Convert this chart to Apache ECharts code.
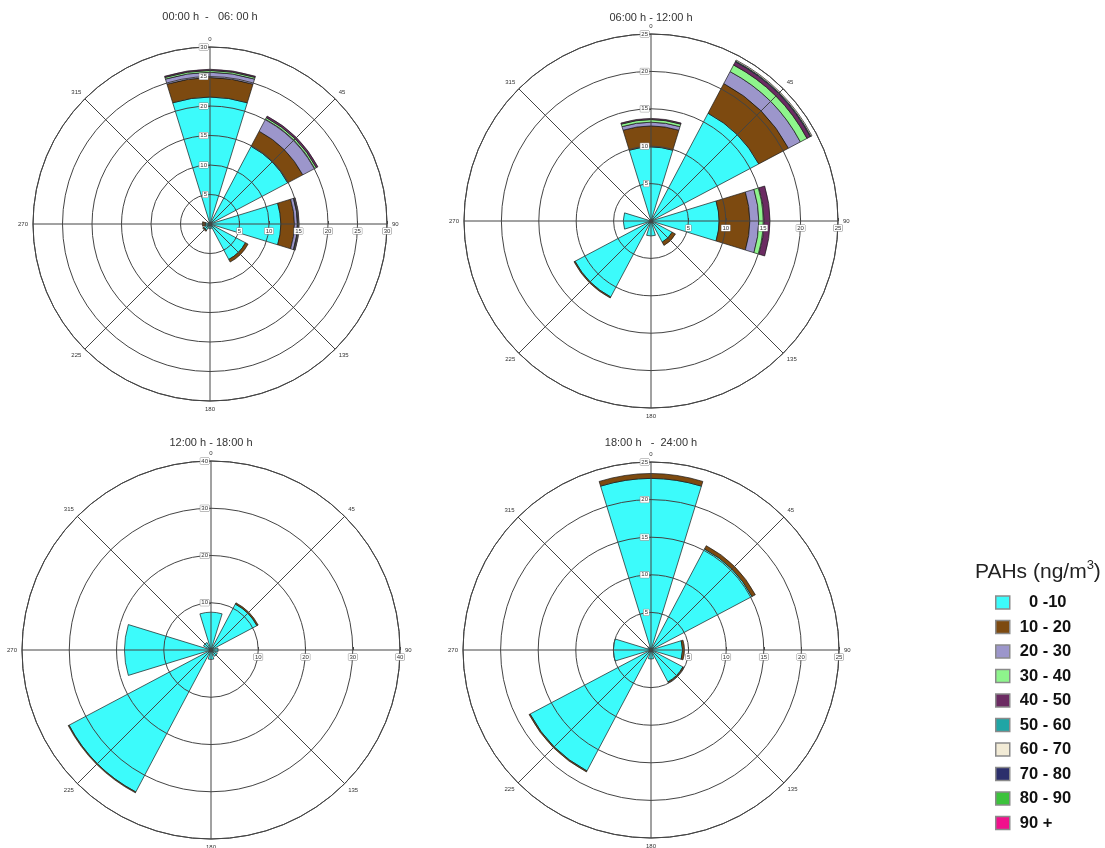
<!DOCTYPE html>
<html><head><meta charset="utf-8">
<script src="https://cdn.jsdelivr.net/npm/echarts@6/dist/echarts.min.js"></script>
<style>html,body{margin:0;padding:0;background:#fff}#c{width:1105px;height:848px}</style>
</head><body><div id="c"></div>
<script>
// ---------- data ----------
const directions = ['0', '45', '90', '135', '180', '225', '270', '315'];
const classNames = ['  0 -10', '10 - 20', '20 - 30', '30 - 40', '40 - 50', '50 - 60', '60 - 70', '70 - 80', '80 - 90', '90 +'];
const panelTitles = ['00:00 h  -   06: 00 h', '06:00 h - 12:00 h', '12:00 h - 18:00 h', '18:00 h   -  24:00 h'];
const radiusMax = [30, 25, 40, 25];
const radiusStep = [5, 5, 10, 5];
const zeros = [0, 0, 0, 0, 0, 0, 0, 0];

// 00:00 - 06:00   (N, NE, E, SE, S, SW, W, NW)
const h00_c0 = [21.5, 14.9, 12.0, 6.8, 0.8, 1.2, 0.8, 0.4];
const h00_c1 = [3.3, 2.9, 2.3, 0.5, 0, 0.2, 0.5, 0];
const h00_c2 = [0.9, 2.3, 0.5, 0, 0, 0, 0, 0];
const h00_c3 = [0.3, 0.3, 0.1, 0, 0, 0, 0, 0];
const h00_c4 = [0.2, 0.3, 0.2, 0, 0, 0, 0, 0];

// 06:00 - 12:00
const h06_c0 = [9.9, 16.3, 9.1, 3.2, 2.0, 11.5, 3.7, 0];
const h06_c1 = [2.8, 4.5, 4.1, 0.5, 0, 0.15, 0, 0];
const h06_c2 = [0.5, 1.8, 1.2, 0, 0, 0, 0, 0];
const h06_c3 = [0.35, 1.0, 0.7, 0, 0, 0, 0, 0];
const h06_c4 = [0.15, 0.5, 0.8, 0, 0, 0, 0, 0];
const h06_c5 = [0, 0.1, 0, 0, 0, 0, 0, 0];
const h06_c6 = [0, 0.15, 0, 0, 0, 0, 0, 0];

// 12:00 - 18:00
const h12_c0 = [8.0, 11.0, 1.5, 1.5, 2.0, 34.0, 18.3, 1.8];
const h12_c1 = [0, 0.3, 0, 0, 0, 0.2, 0, 0];

// 18:00 - 24:00
const h18_c0 = [22.8, 15.2, 4.2, 4.8, 1.2, 18.2, 5.0, 0.5];
const h18_c1 = [0.65, 0.5, 0.25, 0.15, 0, 0.15, 0, 0];

const panelData = [
  [h00_c0, h00_c1, h00_c2, h00_c3, h00_c4, zeros, zeros, zeros, zeros, zeros],
  [h06_c0, h06_c1, h06_c2, h06_c3, h06_c4, h06_c5, h06_c6, zeros, zeros, zeros],
  [h12_c0, h12_c1, zeros, zeros, zeros, zeros, zeros, zeros, zeros, zeros],
  [h18_c0, h18_c1, zeros, zeros, zeros, zeros, zeros, zeros, zeros, zeros]
];

// ---------- styles / layout ----------
const classColors = ['#3CFBFB', '#7D4A10', '#9C96CB', '#8EF58C', '#6B2B62', '#20A5A5', '#F2EBD6', '#2C2F6C', '#3CC23C', '#F0108C'];
const FONT = 'Liberation Sans, Arial, sans-serif';
const layout = [
  { c: [210, 224], r: 177, tx: 210, ty: 11 },
  { c: [651, 221], r: 187, tx: 651, ty: 12 },
  { c: [211, 650], r: 189, tx: 211, ty: 437 },
  { c: [651, 650], r: 188, tx: 651, ty: 437 }
];
const LINE = '#444';

const polar = [], angleAxis = [], radiusAxis = [], series = [], title = [];
layout.forEach((L, p) => {
  for (let k = 0; k < 3; k++) polar.push({ center: L.c, radius: L.r });
  const M = radiusMax[p], S = radiusStep[p];
  // grid polar (spokes, rings, north labels)
  angleAxis.push({
    polarIndex: 3 * p, type: 'value', min: 0, max: 360, interval: 45, startAngle: 90, clockwise: true, z: 3,
    axisLine: { show: true, lineStyle: { color: LINE, width: 1 } },
    axisTick: { show: false },
    splitLine: { show: true, lineStyle: { color: LINE, width: 1 } },
    axisLabel: { fontSize: 6, color: '#333', fontFamily: FONT, margin: 5,
      formatter: v => (v === 360 ? '' : String(v)) }
  });
  radiusAxis.push({
    polarIndex: 3 * p, type: 'value', min: 0, max: M, interval: S, z: 3,
    axisLine: { show: false },
    axisTick: { show: true, length: 3, lineStyle: { color: LINE } },
    splitLine: { show: true, lineStyle: { color: LINE, width: 1 } },
    axisLabel: { showMinLabel: false, fontSize: 6, color: '#333', fontFamily: FONT, margin: 2,
      backgroundColor: '#fff', borderColor: '#888', borderWidth: 0.5, padding: [0, 1] }
  });
  // bar polar
  angleAxis.push({ polarIndex: 3 * p + 1, type: 'category', data: directions, startAngle: 112.5, clockwise: true, show: false });
  radiusAxis.push({ polarIndex: 3 * p + 1, type: 'value', min: 0, max: M, show: false });
  // east labels polar
  angleAxis.push({ polarIndex: 3 * p + 2, type: 'value', min: 0, max: 360, startAngle: 0, show: false });
  radiusAxis.push({
    polarIndex: 3 * p + 2, type: 'value', min: 0, max: M, interval: S, z: 3,
    axisLine: { show: false },
    axisTick: { show: true, length: 3, lineStyle: { color: LINE } },
    splitLine: { show: false },
    axisLabel: { showMinLabel: false, fontSize: 6, color: '#333', fontFamily: FONT, margin: -10,
      backgroundColor: '#fff', borderColor: '#888', borderWidth: 0.5, padding: [0, 1] }
  });

  panelData[p].forEach((arr, k) => {
    series.push({
      type: 'bar', coordinateSystem: 'polar', polarIndex: 3 * p + 1,
      stack: 'panel' + p, name: classNames[k], barWidth: '76%', z: 2,
      itemStyle: { color: classColors[k], borderColor: '#1a1a1a', borderWidth: 0.7 },
      data: arr.map(v => (v > 0 ? v : null))
    });
  });

  title.push({
    text: panelTitles[p], left: L.tx, top: L.ty, textAlign: 'center', padding: 0,
    textStyle: { fontSize: 11, fontWeight: 'normal', color: '#333', fontFamily: FONT }
  });
});

title.push({
  text: '{a|PAHs (ng/m}{s|3}{a|)}', left: 975, top: 559, padding: 0,
  textStyle: {
    fontWeight: 'normal',
    rich: {
      a: { fontSize: 21, lineHeight: 26, fontWeight: 'normal', color: '#222', fontFamily: FONT },
      s: { fontSize: 13, lineHeight: 13, fontWeight: 'normal', verticalAlign: 'top', color: '#222', fontFamily: FONT }
    }
  }
});

const chart = echarts.init(document.getElementById('c'), null, { renderer: 'canvas' });
chart.setOption({
  backgroundColor: '#fff',
  animation: false,
  title: title,
  polar: polar,
  angleAxis: angleAxis,
  radiusAxis: radiusAxis,
  legend: {
    orient: 'vertical', left: 995, top: 594, padding: 0,
    itemWidth: 14, itemHeight: 13, itemGap: 7.5, icon: 'rect',
    data: classNames,
    itemStyle: { borderColor: '#8a8a8a', borderWidth: 1.5 },
    textStyle: { fontSize: 16.5, fontWeight: 'bold', color: '#111', fontFamily: FONT, lineHeight: 16, padding: [0, 0, 0, 5] }
  },
  series: series
});
</script>
</body></html>
